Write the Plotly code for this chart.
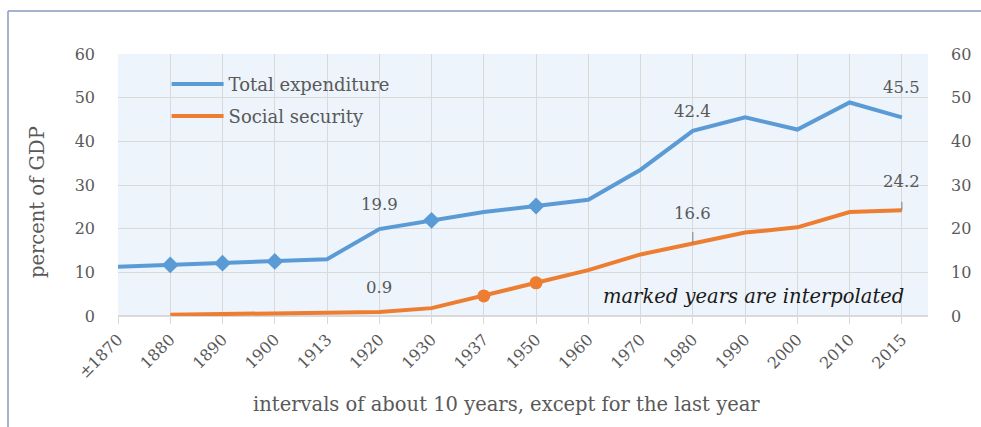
import plotly.graph_objects as go

years = ["±1870", "1880", "1890", "1900", "1913", "1920", "1930", "1937",
         "1950", "1960", "1970", "1980", "1990", "2000", "2010", "2015"]
total_expenditure = [11.3, 11.7, 12.1, 12.5, 13.0, 19.9, 21.9, 23.8,
                     25.2, 26.6, 33.5, 42.4, 45.5, 42.7, 48.9, 45.5]
social_security = [None, 0.3, 0.5, 0.6, 0.8, 0.9, 1.8, 4.6,
                   7.6, 10.5, 14.1, 16.6, 19.1, 20.3, 23.8, 24.2]
total_marked_years = ["1880", "1890", "1900", "1930", "1950"]
social_marked_years = ["1937", "1950"]
y_ticks = [0, 10, 20, 30, 40, 50, 60]

BLUE = "#5B9BD5"
ORANGE = "#ED7D31"
GREY = "#595959"
FONT = "DejaVu Serif"

xi = list(range(len(years)))
idx = {y: i for i, y in enumerate(years)}

fig = go.Figure()
fig.add_trace(go.Scatter(x=xi, y=total_expenditure, mode="lines", name="Total expenditure",
                         line=dict(color=BLUE, width=4), hoverinfo="skip", legend="legend"))
fig.add_trace(go.Scatter(x=xi, y=social_security, mode="lines", name="Social security",
                         line=dict(color=ORANGE, width=4), hoverinfo="skip", legend="legend2"))
fig.add_trace(go.Scatter(x=[idx[y] for y in total_marked_years],
                         y=[total_expenditure[idx[y]] for y in total_marked_years],
                         mode="markers", showlegend=False, hoverinfo="skip",
                         marker=dict(symbol="diamond", size=13, color=BLUE)))
fig.add_trace(go.Scatter(x=[idx[y] for y in social_marked_years],
                         y=[social_security[idx[y]] for y in social_marked_years],
                         mode="markers", showlegend=False, hoverinfo="skip",
                         marker=dict(symbol="circle", size=13, color=ORANGE)))
# invisible trace to drive the right-hand axis
fig.add_trace(go.Scatter(x=xi, y=total_expenditure, mode="lines", yaxis="y2",
                         showlegend=False, hoverinfo="skip",
                         line=dict(color="rgba(0,0,0,0)", width=0)))

label_specs = [
    ("1920", total_expenditure, 25, None),
    ("1920", social_security, 25, None),
    ("1980", total_expenditure, 19, None),
    ("1980", social_security, 30, 13),
    ("2015", total_expenditure, 30, None),
    ("2015", social_security, 29, 10),
]
for yr, series, shift, leader in label_specs:
    i = idx[yr]
    v = series[i]
    fig.add_annotation(x=i, y=v, text=f"{v}", showarrow=False, yshift=shift,
                       xanchor="center",
                       font=dict(family=FONT, size=16.5, color=GREY))
    if leader:
        fig.add_annotation(x=i, y=v, text="", showarrow=True, arrowhead=0,
                           arrowwidth=1, arrowcolor="#7f7f7f", ax=0, ay=-leader,
                           standoff=0)

fig.add_annotation(xref="paper", yref="paper", x=0.9726, y=0.076, xanchor="right",
                   yanchor="middle",
                   text="<i>marked years are interpolated</i>", showarrow=False,
                   font=dict(family=FONT, size=19.5, color="#1a1a1a"))

# axis titles placed as in the reference (not centred on the plot area)
fig.add_annotation(xref="paper", yref="paper", x=0.48, y=-0.336,
                   xanchor="center", yanchor="middle", showarrow=False,
                   text="intervals of about 10 years, except for the last year",
                   font=dict(family=FONT, size=19.5, color=GREY))
fig.add_annotation(xref="paper", yref="paper", x=-0.1, y=0.435,
                   xanchor="center", yanchor="middle", showarrow=False, textangle=-90,
                   text="percent of GDP",
                   font=dict(family=FONT, size=19.5, color=GREY))

# outer frame (top and left edges)
fig.add_shape(type="line", xref="paper", yref="paper", x0=-0.1358, x1=1.08,
              y0=1.164, y1=1.164, line=dict(color="#8899C0", width=1.5))
fig.add_shape(type="line", xref="paper", yref="paper", x0=-0.1358, x1=-0.1358,
              y0=1.164, y1=-0.45, line=dict(color="#8899C0", width=1.5))

legend_font = dict(family=FONT, size=18, color=GREY)
fig.update_layout(
    width=981, height=427,
    margin=dict(l=118, r=53, t=54, b=111),
    paper_bgcolor="white",
    plot_bgcolor="#EDF4FB",
    font=dict(family=FONT, color=GREY),
    legend=dict(x=0.06, y=0.955, xanchor="left", yanchor="top",
                bgcolor="rgba(0,0,0,0)", font=legend_font, itemwidth=52),
    legend2=dict(x=0.06, y=0.833, xanchor="left", yanchor="top",
                 bgcolor="rgba(0,0,0,0)", font=legend_font, itemwidth=52),
    xaxis=dict(range=[0, 15.5], tickmode="array", tickvals=xi, ticktext=years,
               tickangle=-45, showgrid=True, gridcolor="#D9D9D9", gridwidth=1,
               ticks="outside", ticklen=7, tickcolor="#D9D9D9",
               tickfont=dict(family=FONT, size=16, color=GREY),
               showline=False, zeroline=False, automargin=False),
    yaxis=dict(range=[0, 60], tickmode="array", tickvals=y_ticks,
               showgrid=True, gridcolor="#D9D9D9", gridwidth=1, zeroline=True,
               zerolinecolor="#D9D9D9", ticks="", ticklabelstandoff=22,
               tickfont=dict(family=FONT, size=16, color=GREY), automargin=False),
    yaxis2=dict(range=[0, 60], tickmode="array", tickvals=y_ticks, overlaying="y",
                side="right", showgrid=False, zeroline=False, ticks="",
                ticklabelstandoff=22, automargin=False,
                tickfont=dict(family=FONT, size=16, color=GREY)),
)

fig.write_html("out.html", config={"displayModeBar": False},
               post_script="document.body.style.margin='0';"
                           "document.body.style.overflow='hidden';"
                           "document.documentElement.style.overflow='hidden';")
